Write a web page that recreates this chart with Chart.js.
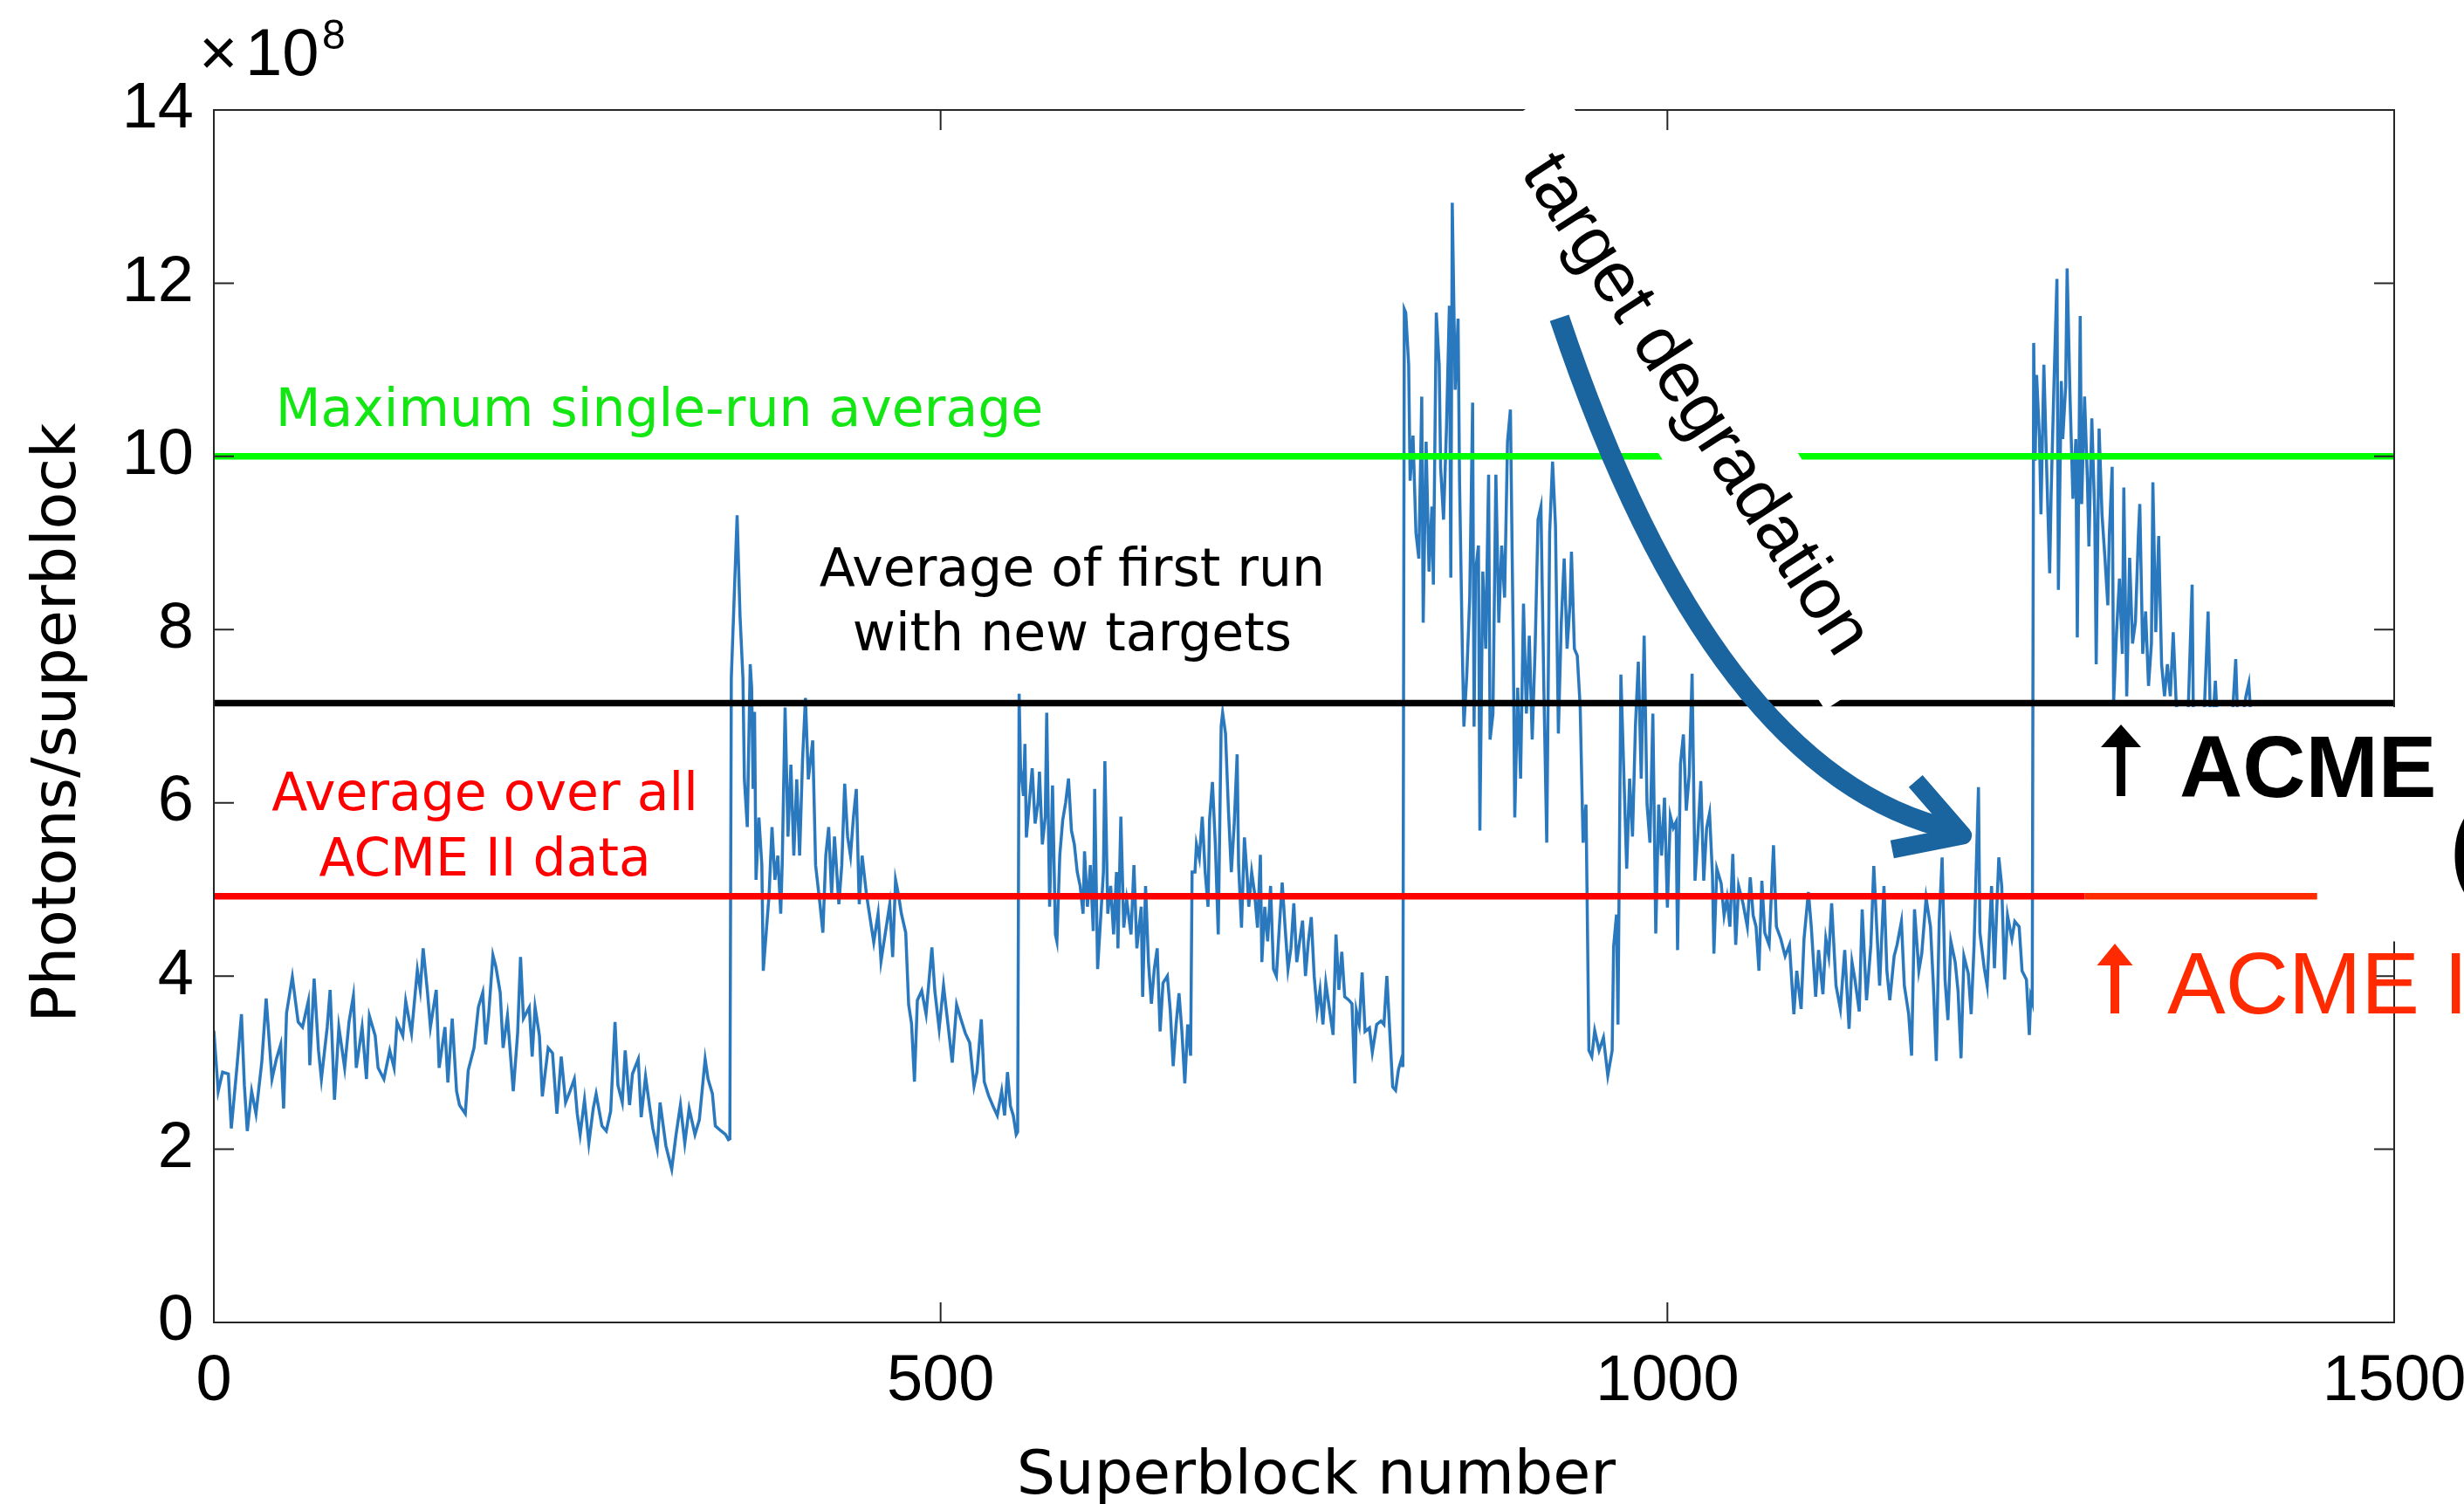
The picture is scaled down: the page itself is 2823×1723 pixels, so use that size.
<!DOCTYPE html>
<html><head><meta charset="utf-8">
<script src="https://cdn.jsdelivr.net/npm/chart.js@4/dist/chart.umd.min.js"></script>
<style>html,body{margin:0;padding:0;background:#fff;overflow:hidden}canvas{display:block}</style>
</head><body>
<canvas id="c" width="2823" height="1723" style="width:2823px;height:1723px"></canvas>
<script>
// Superblock numbers (x) and photons per superblock in units of 1e8 (y)
const superblockNumber = [
 0,3,6,10,12,16,19,21,23,26,29,33,36,40,43,46,48,50,54,58,61,65,66,69,72,74,78,80,83,86,
 90,93,96,98,102,105,107,111,113,117,121,124,126,130,132,136,140,142,144,147,149,153,155,159,161,164,167,169,173,175,
 179,182,185,187,189,192,194,197,199,202,206,209,211,213,217,219,221,224,226,230,233,236,239,242,245,248,250,252,255,258,
 261,263,267,270,273,276,278,281,283,286,288,292,294,297,300,302,305,307,311,315,318,321,324,327,331,334,338,340,343,345,
 349,352,354,355,
 356,360,362,364,365,367,369,370,371,372,373,375,377,378,380,382,384,386,388,390,391,393,395,397,399,401,403,405,407,409,
 412,414,417,419,421,423,425,427,430,432,434,436,438,440,442,444,446,449,451,454,457,459,462,465,467,469,471,473,476,478,
 480,482,484,487,490,494,496,499,502,505,508,511,514,517,520,523,525,528,530,533,536,539,542,544,546,548,550,552,553,
 554,555,557,558,559,561,563,565,567,568,570,572,573,575,577,579,580,582,584,586,588,590,592,594,596,598,599,601,603,605,
 606,608,610,612,613,615,617,619,621,622,624,626,628,631,633,635,638,639,641,643,645,647,649,651,653,656,658,660,662,664,
 666,668,670,672,673,675,676,678,680,682,684,685,687,689,691,693,694,696,698,700,702,704,705,707,709,711,712,714,716,718,
 720,721,723,725,727,729,731,733,735,737,739,741,743,745,747,749,751,753,755,757,759,761,763,765,767,770,772,774,776,778,
 781,783,785,786,788,790,792,795,797,800,803,805,807,809,811,813,815,817,818,
 819,820,822,823,825,827,829,831,832,834,836,838,839,841,843,844,846,848,850,851,852,854,856,857,859,860,862,864,866,867,
 868,870,871,873,875,877,878,880,882,884,886,888,890,892,894,895,897,899,901,903,905,907,909,911,913,915,917,919,921,923,
 925,927,929,931,933,934,936,938,940,942,944,946,948,950,953,956,959,962,963,965,966,968,970,972,974,976,978,980,982,984,
 986,988,990,992,994,996,998,1000,
 1002,1004,1006,1007,1009,1011,1013,1015,1017,1019,1021,1023,1025,1027,1029,1031,1032,1034,1037,1039,1041,1043,1045,1047,1049,1052,1055,1057,1059,1061,
 1063,1065,1067,1070,1073,1075,1078,1081,1084,1087,1089,1092,1094,1097,1099,1102,1104,1107,1109,1111,1113,1116,1119,1122,1125,1127,1129,1132,1134,1137,
 1140,1142,1144,1146,1149,1151,1153,1156,1158,1161,1163,1166,1168,1170,1173,1175,1178,1181,1183,1185,1187,1189,1191,1193,1195,1198,1200,1202,1204,1207,
 1209,1211,1214,1215,1218,1220,1223,1225,1228,1230,1232,1234,1237,1239,1242,1244,1247,1249,1250,1251,
 1252,1253,1254,1256,1257,1259,1261,1263,1264,1266,1268,1269,1271,1272,1274,1275,1277,1279,1281,1282,1284,1285,1287,1289,1290,1292,1294,1295,1297,1299,
 1301,1303,1304,1306,1307,1309,1311,1313,1314,1316,1318,1320,1322,1324,1325,1327,1329,1331,1333,1334,1336,1338,1340,1342,1344,1346,1348,1350,1352,1355,
 1358,1361,1362,1366,1369,1372,1374,1377,1379,1384,1388,1391,1393,1395,1398,1400,1401
];
const photonsPerSuperblock = [
 3.37,2.67,2.89,2.87,2.24,2.97,3.56,2.74,2.21,2.67,2.41,3.01,3.74,2.81,3.04,3.21,2.47,3.57,3.99,3.47,3.41,3.71,2.97,3.97,3.14,2.81,3.41,3.84,2.57,3.41,
 2.94,3.47,3.77,2.94,3.41,2.81,3.54,3.31,2.94,2.81,3.14,2.94,3.47,3.31,3.71,3.34,4.07,3.84,4.32,3.81,3.41,3.84,2.94,3.41,2.77,3.51,2.67,2.51,2.41,2.91,
 3.17,3.64,3.81,3.21,3.54,4.24,4.11,3.81,3.17,3.54,2.67,3.34,4.22,3.51,3.64,3.07,3.64,3.31,2.61,3.17,3.11,2.41,3.07,2.54,2.67,2.81,2.41,2.17,2.57,2.07,
 2.47,2.64,2.27,2.21,2.44,3.47,2.74,2.54,3.14,2.51,2.87,3.04,2.37,2.84,2.47,2.24,2.01,2.54,2.04,1.77,2.17,2.51,2.07,2.47,2.17,2.34,3.04,2.81,2.64,2.27,
 2.21,2.17,2.11,2.12,
 7.44,9.32,8.16,7.44,6.27,5.72,7.6,7.33,6.16,7.05,5.11,5.83,5.28,4.06,4.5,4.94,5.72,5.11,5.39,4.72,5.28,7.1,5.61,6.44,5.39,6.27,5.39,6.49,7.21,6.27,
 6.72,5.28,4.83,4.5,5.39,5.72,4.94,5.61,4.83,5.28,6.22,5.61,5.39,5.83,6.16,4.83,5.39,4.94,4.72,4.39,4.72,4.17,4.5,4.83,4.22,5.11,4.94,4.72,4.5,3.67,
 3.45,2.78,3.72,3.83,3.56,4.33,3.83,3.39,3.89,3.45,3.0,3.67,3.5,3.34,3.23,2.73,2.89,3.5,2.78,2.62,2.5,2.39,2.67,2.39,2.89,2.5,2.39,2.17,2.2,
 7.26,6.4,6.08,6.68,5.6,6.0,6.4,5.76,6.0,6.36,5.52,5.84,7.04,4.8,6.2,4.48,4.4,5.4,5.8,6.0,6.28,5.68,5.52,5.2,5.04,4.72,5.44,4.8,5.28,4.52,
 6.16,4.08,4.64,5.2,6.48,4.72,5.04,4.48,5.2,4.32,5.84,4.56,4.88,4.48,5.28,4.32,4.8,3.76,5.04,4.16,3.68,4.08,4.32,3.36,3.92,4.0,3.6,2.96,3.44,3.8,
 3.36,2.76,3.44,3.08,5.2,5.2,5.52,5.36,5.84,5.2,4.8,5.8,6.24,5.52,4.48,6.88,7.04,6.8,5.92,5.2,5.76,6.56,5.28,4.56,5.6,5.12,4.8,5.2,4.96,4.56,
 5.4,4.16,4.8,4.4,5.04,4.08,4.0,4.56,5.08,4.56,4.08,4.32,4.84,4.16,4.4,4.64,4.0,4.4,4.68,4.0,3.6,3.84,3.44,3.92,3.68,3.32,4.48,3.84,4.28,3.76,
 3.72,3.68,2.76,3.6,3.44,4.04,3.36,3.4,3.12,3.44,3.48,3.44,4.0,3.36,2.72,2.68,2.92,3.04,2.95,
 11.7,11.66,11.06,9.72,10.24,9.12,8.82,10.69,8.08,10.17,8.67,9.42,8.52,11.66,11.06,9.87,9.27,10.32,11.74,8.6,12.93,10.77,11.59,9.72,7.7,6.88,7.48,8.37,10.62,6.88,
 8.67,8.97,5.68,8.67,7.78,9.79,6.73,7.03,9.79,8.08,8.97,8.37,10.17,10.54,7.78,5.83,7.33,6.28,8.3,7.03,7.93,6.73,7.78,9.27,9.42,7.33,5.54,9.12,9.94,9.2,
 6.8,8.08,8.82,7.78,8.3,8.9,7.78,7.7,7.11,5.54,5.98,3.14,3.07,3.37,3.14,3.29,2.85,3.14,4.34,4.71,3.44,7.48,6.36,5.24,6.28,5.61,6.88,7.63,6.28,7.93,
 5.98,5.54,7.03,4.49,5.98,5.39,6.06,4.79,
 5.85,5.71,5.78,4.3,6.45,6.79,5.91,6.32,7.49,5.1,5.64,6.25,5.1,5.71,5.88,5.17,4.26,5.24,5.07,4.7,4.9,4.57,5.41,4.36,5.04,4.84,4.57,5.14,4.7,4.57,
 4.06,5.1,4.5,4.36,5.51,4.57,4.43,4.23,4.36,3.56,4.06,3.62,4.43,4.97,4.57,3.76,4.3,3.79,4.43,4.23,4.84,3.89,3.62,4.3,3.39,4.16,3.96,3.59,4.77,3.72,
 4.36,5.27,4.57,3.89,5.04,4.06,3.72,4.23,4.36,4.63,3.89,3.56,3.08,4.77,4.06,4.26,4.9,4.57,3.89,3.02,4.63,5.37,3.96,3.49,4.4,4.16,3.82,3.05,4.23,4.03,
 3.56,4.36,6.18,4.5,4.09,3.89,5.04,4.09,5.37,5.04,3.96,4.7,4.43,4.63,4.57,4.06,3.96,3.32,3.76,3.7,
 11.31,9.95,10.94,10.2,9.33,11.06,9.82,8.65,9.57,10.87,12.05,8.46,10.87,10.2,10.81,12.17,10.69,9.51,10.2,7.91,11.62,9.45,10.69,9.7,8.96,10.44,9.33,7.6,10.32,9.33,
 8.83,8.28,9.08,9.88,7.16,7.97,8.59,7.72,9.64,7.23,8.83,7.84,8.09,9.08,9.45,7.72,8.21,7.35,7.84,9.7,7.97,9.08,7.6,7.23,7.6,7.23,7.97,7.16,6.8,6.6,
 6.9,8.52,6.7,6.5,6.9,8.21,6.6,7.41,6.7,6.5,6.8,7.66,6.6,6.9,7.23,7.38,7.1
];
const maxSingleRunAverage = 10;
const firstRunNewTargetsAverage = 7.15;
const allAcmeIIAverage = 4.92;
const xTickValues = [0, 500, 1000, 1500];
const yTickValues = [0, 2, 4, 6, 8, 10, 12, 14];
const xRange = [0, 1500];
const yRange = [0, 14];
const acmeIIExtension = [1287, 1447];

const seriesPoints = superblockNumber.map((x, i) => ({x: x, y: photonsPerSuperblock[i]}));
const hline = (v) => [{x: xRange[0], y: v}, {x: xRange[1], y: v}];

const overlay = {
  id: 'overlay',
  afterDraw(chart) {
    const ctx = chart.ctx;
    const sx = chart.scales.x, sy = chart.scales.y;
    const X = v => sx.getPixelForValue(v), Y = v => sy.getPixelForValue(v);
    const a = chart.chartArea;
    ctx.save();
    // axes box with inward ticks
    ctx.strokeStyle = '#262626'; ctx.lineWidth = 2;
    ctx.strokeRect(a.left, a.top, a.right - a.left, a.bottom - a.top);
    const tl = 23;
    ctx.beginPath();
    xTickValues.forEach(v => { const p = X(v); ctx.moveTo(p, a.bottom); ctx.lineTo(p, a.bottom - tl); ctx.moveTo(p, a.top); ctx.lineTo(p, a.top + tl); });
    yTickValues.forEach(v => { const p = Y(v); ctx.moveTo(a.left, p); ctx.lineTo(a.left + tl, p); ctx.moveTo(a.right, p); ctx.lineTo(a.right - tl, p); });
    ctx.stroke();

    // rotated "target degradation" label with white backing
    ctx.save();
    ctx.translate(X(1017.3), Y(10.67));
    ctx.rotate(57 * Math.PI / 180);
    ctx.fillStyle = '#fff';
    ctx.fillRect(-382, -67, 764, 134);
    ctx.fillStyle = '#000';
    ctx.font = '82px "Liberation Sans"';
    ctx.textAlign = 'center'; ctx.textBaseline = 'middle';
    ctx.fillText('target degradation', 8, 2);
    ctx.restore();

    // curved arrow
    ctx.strokeStyle = '#1a64a0';
    ctx.lineCap = 'butt';
    ctx.lineWidth = 23;
    ctx.beginPath();
    ctx.moveTo(X(925.7), Y(11.60));
    ctx.quadraticCurveTo(X(1031.7), Y(6.30), X(1197.2), Y(5.685));
    ctx.stroke();
    ctx.lineWidth = 21; ctx.lineJoin = 'round';
    ctx.beginPath();
    ctx.moveTo(X(1170.8), Y(6.25));
    ctx.lineTo(X(1203.2), Y(5.624));
    ctx.lineTo(X(1154.6), Y(5.463));
    ctx.stroke();

    // white panel for the ACME annotations at right
    const bx = X(acmeIIExtension[0]);
    const by0 = Y(firstRunNewTargetsAverage) + 4.5, by1 = Y(4.4);
    ctx.fillStyle = '#fff';
    ctx.fillRect(bx, by0, chart.width - bx, by1 - by0);
    ctx.strokeStyle = '#ff2a00'; ctx.lineWidth = 7.5; ctx.lineCap = 'butt';
    ctx.beginPath();
    ctx.moveTo(X(acmeIIExtension[0]), Y(allAcmeIIAverage));
    ctx.lineTo(X(acmeIIExtension[1]), Y(allAcmeIIAverage));
    ctx.stroke();

    function upArrow(cx, tip, base, bottom, hw, sw, color) {
      ctx.fillStyle = color;
      ctx.beginPath();
      ctx.moveTo(cx, tip); ctx.lineTo(cx + hw / 2, base); ctx.lineTo(cx - hw / 2, base); ctx.closePath(); ctx.fill();
      ctx.fillRect(cx - sw / 2, base - 1, sw, bottom - base + 1);
    }
    upArrow(2430, 830, 856, 912, 46, 10, '#000');
    upArrow(2423, 1081, 1106, 1161, 41, 10, '#ff2a00');
    ctx.textAlign = 'left'; ctx.textBaseline = 'alphabetic';
    ctx.fillStyle = '#000';
    ctx.font = 'bold 100px "Liberation Sans"';
    ctx.fillText('ACME III', 2497, 913);
    ctx.font = 'bold 110px "Liberation Sans"';
    ctx.fillText('(', 2807, 1008);
    ctx.fillStyle = '#ff2a00';
    ctx.font = '100px "Liberation Sans"';
    ctx.fillText('ACME II', 2483, 1161);

    // in-plot annotations
    ctx.font = '60px "DejaVu Sans"';
    ctx.fillStyle = '#14e614';
    ctx.textAlign = 'left';
    ctx.fillText('Maximum single-run average', X(42.5), Y(10.35));
    ctx.textAlign = 'center';
    ctx.fillStyle = '#000';
    ctx.fillText('Average of first run', X(590.5), Y(8.51));
    ctx.fillText('with new targets', X(590.5), Y(7.76));
    ctx.fillStyle = '#ff0000';
    ctx.fillText('Average over all', X(186.5), Y(5.92));
    ctx.fillText('ACME II data', X(186.5), Y(5.16));

    // axis titles and exponent
    ctx.fillStyle = '#000';
    ctx.font = '70px "DejaVu Sans"';
    ctx.textAlign = 'center';
    ctx.fillText('Superblock number', 1508, 1711);
    ctx.save();
    ctx.translate(86, 828);
    ctx.rotate(-Math.PI / 2);
    ctx.fillText('Photons/superblock', 0, 0);
    ctx.restore();
    ctx.textAlign = 'left';
    ctx.font = '76px "Liberation Sans"';
    ctx.fillText('\u00d7', 228, 86);
    ctx.fillText('10', 281, 86);
    ctx.font = '48px "Liberation Sans"';
    ctx.fillText('8', 369, 56);
    ctx.restore();
  }
};

const tickFont = {family: 'Liberation Sans', size: 74};
new Chart(document.getElementById('c'), {
  type: 'line',
  data: {
    datasets: [
      {data: hline(maxSingleRunAverage), borderColor: '#00ff00', borderWidth: 7.5, pointRadius: 0, order: 1},
      {data: hline(firstRunNewTargetsAverage), borderColor: '#000000', borderWidth: 7.5, pointRadius: 0, order: 2},
      {data: hline(allAcmeIIAverage), borderColor: '#ff0000', borderWidth: 7.5, pointRadius: 0, order: 3},
      {data: seriesPoints, borderColor: '#2a78bd', borderWidth: 3.5, pointRadius: 0, tension: 0, order: 10}
    ]
  },
  options: {
    responsive: false, animation: false, devicePixelRatio: 1,
    layout: {padding: {top: 126, right: 80, left: 0, bottom: 0}},
    plugins: {legend: {display: false}, tooltip: {enabled: false}},
    scales: {
      x: {type: 'linear', min: xRange[0], max: xRange[1],
          grid: {display: false}, border: {display: false},
          ticks: {stepSize: 500, font: tickFont, color: '#000', padding: 16, maxRotation: 0, callback: v => String(v)},
          afterFit(s) { s.height = 208; s.paddingLeft = 0; s.paddingRight = 0; }},
      y: {type: 'linear', min: yRange[0], max: yRange[1],
          grid: {display: false}, border: {display: false},
          ticks: {stepSize: 2, font: tickFont, color: '#000', padding: 15, callback: v => String(v)},
          afterFit(s) { s.width = 245; s.paddingTop = 0; s.paddingBottom = 0; }}
    }
  },
  plugins: [overlay]
});
</script>
</body></html>
